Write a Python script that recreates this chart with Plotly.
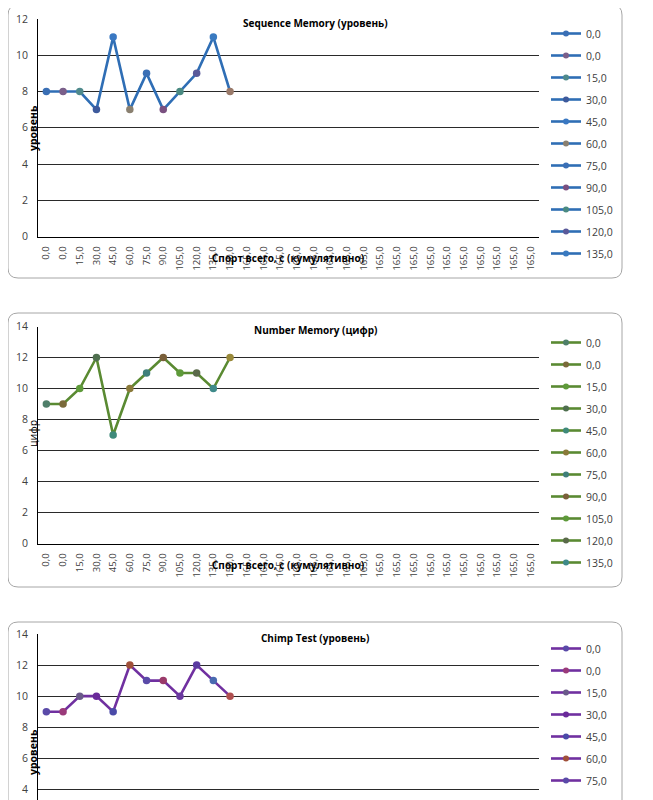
import plotly.graph_objects as go

W, H = 653, 800
OFF = 8  # the page body margin shifts the figure by this much

# categories on the x axis (cumulative sport, seconds)
x_labels = ["0,0", "0,0", "15,0", "30,0", "45,0", "60,0", "75,0", "90,0",
            "105,0", "120,0", "135,0", "150,0"] + ["165,0"] * 18
legend_labels = x_labels[:11]

sequence_memory = [8, 8, 8, 7, 11, 7, 9, 7, 8, 9, 11, 8]
number_memory = [9, 9, 10, 12, 7, 10, 11, 12, 11, 11, 10, 12]
chimp_test = [9, 9, 10, 10, 9, 12, 11, 11, 10, 12, 11, 10]

FONT = "Open Sans"


def px(x):
    return (x - OFF) / W


def py(y):
    return 1 - (y - OFF) / H


def rounded_rect(x0, y0, x1, y1, r=10):
    # x0,y0 top-left / x1,y1 bottom-right in screen pixels -> paper path
    a, b, c, d = px(x0), py(y1), px(x1), py(y0)
    rx, ry = r / W, r / H
    return (f"M {a+rx},{d} L {c-rx},{d} Q {c},{d} {c},{d-ry} "
            f"L {c},{b+ry} Q {c},{b} {c-rx},{b} L {a+rx},{b} "
            f"Q {a},{b} {a},{b+ry} L {a},{d-ry} Q {a},{d} {a+rx},{d} Z")


charts = [
    dict(title="Sequence Memory (уровень)", values=sequence_memory,
         ytitle="уровень", ybold=True, color="#2F6EB5",
         markers=["#3A6FB5", "#7A5F8A", "#4F8A8C", "#3D5A9C", "#3A78C2", "#8A8070",
                  "#3A6FB5", "#7A5080", "#4A8A82", "#5A5A9A", "#3A7AC0", "#9A7A6A"],
         frame=(5, 278), plot=(19, 236.5), yrange=[0, 12],
         legend_top=19, n_leg=11, xtitle_y=258, ytitle_y=128, title_y=23,
         xticks=True),
    dict(title="Number Memory (цифр)", values=number_memory,
         ytitle="цифр", ybold=False, color="#5A8A32",
         markers=["#4F7F6A", "#7A6A3A", "#5E9A3A", "#4F6F4F", "#3F8A7A", "#8A7A3A",
                  "#3F7F7A", "#7A5F3A", "#5E9A3A", "#5A6A4A", "#3F8A8A", "#9A8A3A"],
         frame=(313, 587), plot=(326.5, 543.5), yrange=[0, 14],
         legend_top=328, n_leg=11, xtitle_y=565, ytitle_y=433, title_y=330,
         xticks=True),
    # third chart is cut off by the bottom of the window
    dict(title="Chimp Test (уровень)", values=chimp_test,
         ytitle="уровень", ybold=True, color="#7030A0",
         markers=["#5A4AA8", "#9A3A7A", "#6A5A8A", "#6A2A9A", "#4A4AA8", "#A0503A",
                  "#5A4AA8", "#9A3A6A", "#6A3AA0", "#5A3AA0", "#4A6AB0", "#B05050"],
         frame=(622, 900), plot=(634, 808), yrange=[2.8, 14],
         legend_top=634, n_leg=7, xtitle_y=None, ytitle_y=752, title_y=638,
         xticks=False),
]

fig = go.Figure()
layout = dict(width=W, height=H,
              margin=dict(l=0, r=0, t=0, b=0, pad=0, autoexpand=False),
              paper_bgcolor="white", plot_bgcolor="white",
              font=dict(family=FONT, color="#404040"), shapes=[], annotations=[])


def note(text, x, y, **kw):
    layout["annotations"].append(dict(
        text=text, x=px(x), y=py(y), xref="paper", yref="paper",
        xanchor="center", yanchor="middle", showarrow=False, **kw))


for i, ch in enumerate(charts, start=1):
    sfx = "" if i == 1 else str(i)
    xa, ya = "x" + sfx, "y" + sfx
    leg = "legend" + sfx

    fig.add_trace(go.Scatter(
        x=list(range(len(ch["values"]))), y=ch["values"], xaxis=xa, yaxis=ya,
        mode="lines+markers", showlegend=False,
        line=dict(color=ch["color"], width=2.6),
        marker=dict(size=7.5, color=ch["markers"]),
    ))
    # one legend entry per point, as in the source spreadsheet
    for k, lab in enumerate(legend_labels[:ch["n_leg"]]):
        fig.add_trace(go.Scatter(
            x=[None], y=[None], xaxis=xa, yaxis=ya, mode="lines+markers",
            name=lab, legend=leg, legendgroup=f"{i}-{k}",
            line=dict(color=ch["color"], width=2.6),
            marker=dict(size=6, color=ch["markers"][k]),
        ))

    top, bot = ch["plot"]
    layout["xaxis" + sfx] = dict(
        domain=[px(38), px(539)], anchor=ya, range=[-0.5, len(x_labels) - 0.5],
        tickmode="array", tickvals=list(range(len(x_labels))), ticktext=x_labels,
        tickangle=-90, tickfont=dict(size=9.5, color="#404040"),
        showticklabels=ch["xticks"],
        showgrid=False, zeroline=False, showline=True, linecolor="black",
        linewidth=1.2, ticks="", ticklabelstandoff=5, fixedrange=True,
        automargin=False,
    )
    layout["yaxis" + sfx] = dict(
        domain=[py(bot), py(top)], anchor=xa, range=ch["yrange"], dtick=2,
        tick0=0, showgrid=True, gridcolor="#2A2A2A", gridwidth=1,
        zeroline=False, showline=True, linecolor="black", linewidth=1,
        tickfont=dict(size=10.5, color="#404040"), ticks="",
        ticklabelstandoff=7, fixedrange=True, automargin=False,
    )
    layout[leg] = dict(
        x=px(546), y=py(ch["legend_top"]), xanchor="left", yanchor="top",
        bgcolor="rgba(0,0,0,0)", font=dict(size=10.5, color="#404040"),
        tracegroupgap=3, itemwidth=30,
    )
    layout["shapes"].append(dict(
        type="path", xref="paper", yref="paper",
        path=rounded_rect(8, ch["frame"][0], 622, ch["frame"][1]),
        line=dict(color="#A6A6A6", width=1), layer="below",
    ))
    note(f"<b>{ch['title']}</b>", 315, ch["title_y"],
         font=dict(size=10, color="black"))
    ytxt = f"<b>{ch['ytitle']}</b>" if ch["ybold"] else ch["ytitle"]
    note(ytxt, 33, ch["ytitle_y"], textangle=-90,
         font=dict(size=10.5, color="black"))
    if ch["xtitle_y"] is not None:
        note("<b>Спорт всего, с (кумулятивно)</b>", 288, ch["xtitle_y"],
             font=dict(size=10, color="black"))

fig.update_layout(**layout)
fig.write_html("out.html")
